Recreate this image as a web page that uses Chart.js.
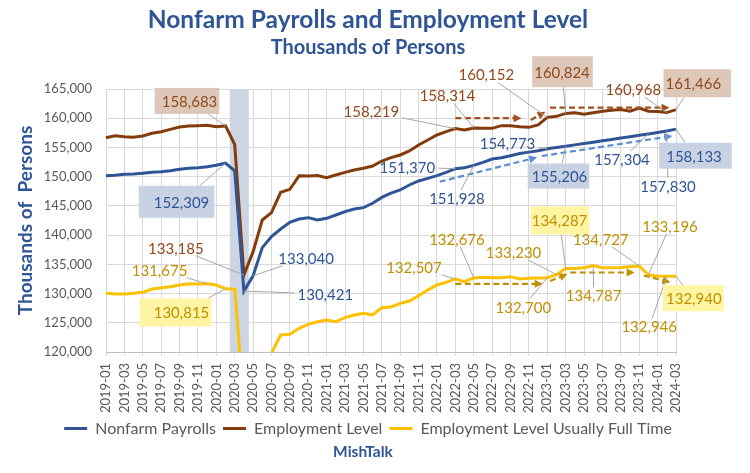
<!DOCTYPE html>
<html>
<head>
<meta charset="utf-8">
<title>Nonfarm Payrolls and Employment Level</title>
<script src="https://cdn.jsdelivr.net/npm/chart.js@4.4.1/dist/chart.umd.min.js"></script>
<style>
  html, body { margin: 0; padding: 0; background: #fff; }
</style>
</head>
<body>
<canvas id="chart" width="750" height="473"></canvas>
<script>
// Monthly categories
const months = [
    "2019-01", "2019-02", "2019-03", "2019-04", "2019-05", "2019-06", "2019-07", "2019-08", "2019-09", "2019-10", "2019-11", "2019-12",
    "2020-01", "2020-02", "2020-03", "2020-04", "2020-05", "2020-06", "2020-07", "2020-08", "2020-09", "2020-10", "2020-11", "2020-12",
    "2021-01", "2021-02", "2021-03", "2021-04", "2021-05", "2021-06", "2021-07", "2021-08", "2021-09", "2021-10", "2021-11", "2021-12",
    "2022-01", "2022-02", "2022-03", "2022-04", "2022-05", "2022-06", "2022-07", "2022-08", "2022-09", "2022-10", "2022-11", "2022-12",
    "2023-01", "2023-02", "2023-03", "2023-04", "2023-05", "2023-06", "2023-07", "2023-08", "2023-09", "2023-10", "2023-11", "2023-12",
    "2024-01", "2024-02", "2024-03"
];

// Thousands of persons
const nonfarmPayrolls = [
    150172, 150230, 150400, 150450, 150570, 150740, 150860, 151020, 151250, 151430, 151540, 151710,
    151940, 152309, 151000, 130421, 133040, 137854, 139735, 141047, 142188, 142758, 142986, 142587,
    142872, 143442, 144013, 144470, 144697, 145443, 146450, 147200, 147720, 148575, 149260, 149716,
    150172, 150742, 151370, 151541, 151928, 152453, 153023, 153251, 153592, 153950, 154200, 154450,
    154773, 155000, 155206, 155440, 155670, 155900, 156140, 156370, 156600, 156840, 157070, 157304,
    157560, 157830, 158133
];

const employmentLevel = [
    156673, 157015, 156845, 156730, 156958, 157414, 157700, 158099, 158498, 158670, 158726, 158783,
    158555, 158683, 155500, 133185, 137169, 142587, 143840, 147320, 147834, 150150, 150100, 150180,
    149830, 150286, 150742, 151140, 151427, 151826, 152681, 153250, 153708, 154392, 155419, 156274,
    157130, 157700, 158219, 157985, 158314, 158270, 158270, 158726, 158726, 158555, 158441, 158870,
    160152, 160320, 160824, 160950, 160700, 160950, 161200, 161350, 161500, 161200, 161750, 161200,
    161150, 160968, 161466
];

const usuallyFullTime = [
    130041, 129930, 129930, 130040, 130210, 130780, 131010, 131180, 131470, 131690, 131620, 131675,
    131460, 130815, 130750, 111000, 113500, 116800, 119800, 122912, 123026, 124053, 124737, 125193,
    125479, 125193, 125878, 126334, 126619, 126334, 127589, 127700, 128330, 128729, 129641, 130611,
    131466, 131922, 132507, 132036, 132676, 132778, 132720, 132720, 132892, 132493, 132607, 132650,
    132700, 133230, 134287, 134300, 134400, 134787, 134400, 134400, 134450, 134600, 134727, 133196,
    133000, 132946, 132940
];

const recessionMonths = ["2020-03", "2020-04"];

const yMin = 120000;
const yMax = 165000;
const yStep = 5000;

const series = { nfp: nonfarmPayrolls, emp: employmentLevel, ft: usuallyFullTime };
const lineColor = { nfp: "#2f5597", emp: "#843c0c", ft: "#ffc000" };
const textColor = { nfp: "#2f5597", emp: "#93491b", ft: "#bf9000" };
const boxColor = { nfp: "#c8d2e3", emp: "#dcc7b9", ft: "#fff5a3" };
const arrowColor = { nfp: "#5b8dd4", emp: "#a0521e", ft: "#bf9000" };

// value callouts: which point, where the text sits relative to it, optional box [padL, padR, height]
const callouts = [
    { s: "emp", m: "2020-02", dx: -36, dy: -25, box: [7, 2, 26] },
    { s: "nfp", m: "2020-02", dx: -44, dy: 38.6, box: [15, 5, 32] },
    { s: "emp", m: "2020-04", dx: -68, dy: -27 },
    { s: "ft",  m: "2019-12", dx: -47.6, dy: -14 },
    { s: "ft",  m: "2020-02", dx: -44, dy: 23.7, box: [14, 2, 28] },
    { s: "nfp", m: "2020-05", dx: 53, dy: -18 },
    { s: "nfp", m: "2020-04", dx: 81.4, dy: 3 },
    { s: "emp", m: "2022-03", dx: -84, dy: -17 },
    { s: "emp", m: "2022-05", dx: -26.3, dy: -32.7 },
    { s: "nfp", m: "2022-03", dx: -48, dy: -1.4 },
    { s: "nfp", m: "2022-05", dx: -16.8, dy: 32.6 },
    { s: "ft",  m: "2022-03", dx: -41.4, dy: -12 },
    { s: "ft",  m: "2022-05", dx: -16.8, dy: -39 },
    { s: "emp", m: "2023-01", dx: -61, dy: -43 },
    { s: "emp", m: "2023-03", dx: -3.7, dy: -41.7, box: [2, 3, 31] },
    { s: "emp", m: "2024-02", dx: -33.5, dy: -23.3 },
    { s: "emp", m: "2024-03", dx: 17.3, dy: -26.4, box: [2, 10, 28] },
    { s: "nfp", m: "2023-01", dx: -39.8, dy: -5.5 },
    { s: "nfp", m: "2023-03", dx: -6.2, dy: 29.8, box: [4, 2, 25] },
    { s: "nfp", m: "2023-12", dx: -26.4, dy: 25 },
    { s: "nfp", m: "2024-02", dx: 1.2, dy: 55.4 },
    { s: "nfp", m: "2024-03", dx: 18, dy: 26.6, box: [7, 10, 26] },
    { s: "ft",  m: "2023-01", dx: -24, dy: 28.9 },
    { s: "ft",  m: "2023-02", dx: -43, dy: -22.4 },
    { s: "ft",  m: "2023-03", dx: -6.2, dy: -48, box: [1, 2, 28] },
    { s: "ft",  m: "2023-06", dx: 0.4, dy: 29.8 },
    { s: "ft",  m: "2023-11", dx: -38.5, dy: -27.2 },
    { s: "ft",  m: "2023-12", dx: 21.6, dy: -49.2 },
    { s: "ft",  m: "2024-02", dx: -17.6, dy: 50.3 },
    { s: "ft",  m: "2024-03", dx: 17.8, dy: 21.8, box: [3, 2, 26] }
];

// hand drawn trend arrows, [month index, value]
const trendArrows = [
    { s: "emp", from: [38.0, 160000], to: [45.2, 160000] },
    { s: "emp", from: [46.2, 159700], to: [47.8, 161100] },
    { s: "emp", from: [48.3, 161800], to: [61.3, 161800] },
    { s: "nfp", from: [36.3, 149140], to: [46.9, 153310] },
    { s: "nfp", from: [47.4, 153540], to: [61.6, 156960] },
    { s: "ft",  from: [38.0, 131670], to: [47.5, 131670] },
    { s: "ft",  from: [48.3, 132150], to: [50.2, 133350] },
    { s: "ft",  from: [50.5, 133600], to: [57.5, 133600] },
    { s: "ft",  from: [58.5, 133090], to: [61.4, 131940] }
];

const fmt = v => v.toLocaleString("en-US");

function edgePoint(r, cx, cy, px, py) {
    const dx = px - cx, dy = py - cy;
    const tx = dx > 0 ? (r.r - cx) / dx : dx < 0 ? (r.l - cx) / dx : Infinity;
    const ty = dy > 0 ? (r.b - cy) / dy : dy < 0 ? (r.t - cy) / dy : Infinity;
    const t = Math.min(tx, ty);
    return [cx + dx * t, cy + dy * t, t];
}

const annotations = {
    id: "annotations",
    afterDatasetsDraw(chart) {
        const { ctx } = chart;
        const x = chart.scales.x, y = chart.scales.y;
        ctx.save();

        // dashed arrows
        trendArrows.forEach(a => {
            const x1 = x.getPixelForValue(a.from[0]), y1 = y.getPixelForValue(a.from[1]);
            const x2 = x.getPixelForValue(a.to[0]), y2 = y.getPixelForValue(a.to[1]);
            const ang = Math.atan2(y2 - y1, x2 - x1);
            const c = Math.cos(ang), s = Math.sin(ang);
            ctx.strokeStyle = arrowColor[a.s];
            ctx.fillStyle = arrowColor[a.s];
            ctx.lineWidth = 2.2;
            ctx.setLineDash([6, 3.5]);
            ctx.beginPath();
            ctx.moveTo(x1, y1);
            ctx.lineTo(x2 - 6 * c, y2 - 6 * s);
            ctx.stroke();
            ctx.setLineDash([]);
            ctx.beginPath();
            ctx.moveTo(x2, y2);
            ctx.lineTo(x2 - 8 * c + 4 * s, y2 - 8 * s - 4 * c);
            ctx.lineTo(x2 - 8 * c - 4 * s, y2 - 8 * s + 4 * c);
            ctx.closePath();
            ctx.fill();
        });

        // callouts
        ctx.font = "15px Lato";
        ctx.textAlign = "center";
        ctx.textBaseline = "middle";
        callouts.forEach(c => {
            const data = series[c.s];
            const i = months.indexOf(c.m);
            const px = x.getPixelForValue(i), py = y.getPixelForValue(data[i]);
            const text = fmt(data[i]);
            const w = ctx.measureText(text).width;
            const cx = px + c.dx, cy = py + c.dy;
            const r = c.box
                ? { l: cx - w / 2 - c.box[0], r: cx + w / 2 + c.box[1], t: cy - c.box[2] / 2, b: cy + c.box[2] / 2 }
                : { l: cx - w / 2 - 3, r: cx + w / 2 + 3, t: cy - 8, b: cy + 8 };

            const [sx, sy, t] = edgePoint(r, cx, cy, px, py);
            if (t < 1) {
                ctx.strokeStyle = "#a6a6a6";
                ctx.lineWidth = 1;
                ctx.beginPath();
                ctx.moveTo(sx, sy);
                ctx.lineTo(px, py);
                ctx.stroke();
            }
            if (c.box) {
                ctx.fillStyle = boxColor[c.s];
                ctx.fillRect(r.l, r.t, r.r - r.l, r.b - r.t);
            }
            ctx.fillStyle = textColor[c.s];
            ctx.fillText(text, cx, cy + 1);
        });
        ctx.restore();
    },
    afterDraw(chart) {
        const { ctx } = chart;
        ctx.save();
        ctx.font = "bold 15.5px Lato";
        ctx.fillStyle = "#2f5597";
        ctx.textAlign = "center";
        ctx.textBaseline = "middle";
        ctx.fillText("MishTalk", 363, 452);
        ctx.restore();
    }
};

Chart.defaults.font.family = "Lato";

const chart = new Chart(document.getElementById("chart"), {
    type: "line",
    data: {
        labels: months,
        datasets: [
            {
                label: "Nonfarm Payrolls",
                data: nonfarmPayrolls,
                borderColor: lineColor.nfp,
                backgroundColor: lineColor.nfp,
                borderWidth: 3,
                pointRadius: 0,
                tension: 0,
                order: 1
            },
            {
                label: "Employment Level",
                data: employmentLevel,
                borderColor: lineColor.emp,
                backgroundColor: lineColor.emp,
                borderWidth: 3,
                pointRadius: 0,
                tension: 0,
                order: 2
            },
            {
                label: "Employment Level Usually Full Time",
                data: usuallyFullTime,
                borderColor: lineColor.ft,
                backgroundColor: lineColor.ft,
                borderWidth: 3,
                pointRadius: 0,
                tension: 0,
                order: 3
            },
            {
                type: "bar",
                label: "Recession",
                data: months.map(m => recessionMonths.includes(m) ? yMax : null),
                backgroundColor: "#cdd5e2",
                borderWidth: 0,
                barPercentage: 1,
                categoryPercentage: 1,
                order: 10
            }
        ]
    },
    options: {
        responsive: false,
        animation: false,
        layout: { padding: { left: 0, right: 14, top: 0, bottom: 26.5 } },
        plugins: {
            title: {
                display: true,
                text: "Nonfarm Payrolls and Employment Level",
                color: "#2f5597",
                font: { size: 24.5, weight: "bold" },
                padding: { top: 5.3, bottom: 0 }
            },
            subtitle: {
                display: true,
                text: "Thousands of Persons",
                color: "#2f5597",
                font: { size: 20, weight: "bold" },
                padding: { top: 1.3, bottom: 29 }
            },
            legend: {
                position: "bottom",
                labels: {
                    color: "#595959",
                    font: { size: 16 },
                    boxWidth: 23,
                    boxHeight: 3,
                    padding: 7,
                    generateLabels(chart) {
                        const items = Chart.defaults.plugins.legend.labels.generateLabels(chart);
                        return items
                            .filter(it => it.datasetIndex < 3)
                            .map(it => Object.assign(it, { lineWidth: 0 }));
                    }
                }
            },
            tooltip: { enabled: false }
        },
        scales: {
            x: {
                offset: false,
                grid: {
                    offset: false,
                    color: c => c.index % 2 === 0 ? "#d9d9d9" : "rgba(0,0,0,0)",
                    tickLength: 4
                },
                border: { color: "#bfbfbf" },
                ticks: {
                    autoSkip: false,
                    minRotation: 90,
                    maxRotation: 90,
                    padding: 7,
                    color: "#595959",
                    font: { size: 13 },
                    callback(value, index) {
                        return index % 2 === 0 ? months[index] : "";
                    }
                },
                afterFit(scale) { scale.height = 61.5; }
            },
            y: {
                min: yMin,
                max: yMax,
                grid: { color: "#d9d9d9", drawTicks: false },
                border: { display: false },
                ticks: {
                    stepSize: yStep,
                    padding: 14,
                    color: "#595959",
                    font: { size: 13 },
                    callback: v => fmt(v)
                },
                title: {
                    display: true,
                    text: "Thousands of  Persons",
                    color: "#2f5597",
                    font: { size: 19, weight: "bold" },
                    padding: { top: 14.6, bottom: 0 }
                },
                afterFit(scale) { scale.width = 106; }
            },
            // empty right axis that only reserves the right margin
            yRight: {
                position: "right",
                grid: { display: false },
                border: { display: false },
                ticks: { display: false },
                afterFit(scale) { scale.width = 60; }
            }
        }
    },
    plugins: [annotations]
});
</script>
</body>
</html>
